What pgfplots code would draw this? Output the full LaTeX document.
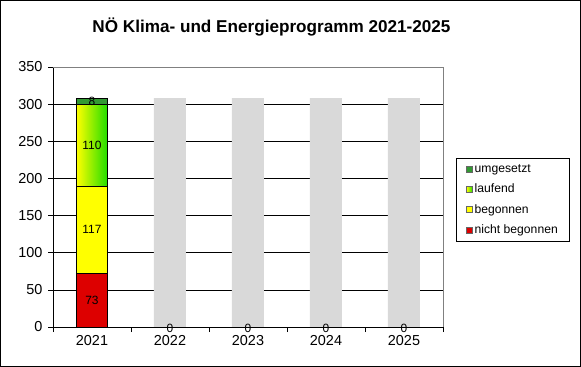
\documentclass[border=0pt]{standalone}
\usepackage{pgfplots}
\pgfplotsset{compat=1.18}
\usepackage{fontspec}
\setmainfont{Liberation Sans}
\definecolor{cred}{HTML}{DD0000}
\definecolor{cyellow}{HTML}{FFFF00}
\definecolor{cgreen}{HTML}{339933}
\definecolor{clgreen}{HTML}{CCFF66}
\definecolor{cgrad}{HTML}{22DD00}
\definecolor{cgray}{HTML}{D9D9D9}
\definecolor{cborder}{HTML}{808080}
\pgfplotsset{
  common/.style={
    at={(53bp,40bp)}, anchor=south west,
    scale only axis, width=390bp, height=260bp,
    xmin=-0.5, xmax=4.5, ymin=0, ymax=350,
    /pgf/number format/assume math mode=true,
  }
}
\begin{document}
\begin{tikzpicture}
\useasboundingbox (0bp,0bp) rectangle (581bp,367bp);
\draw[line width=1bp] (0.5bp,0.5bp) rectangle (580.5bp,366.5bp);
\node[font=\fontsize{17.2}{19}\selectfont\bfseries, anchor=base] at (271.5bp,334bp) {NÖ Klima- und Energieprogramm 2021-2025};
% background axis: grid, ticks and grey bars
\begin{axis}[
  common,
  ybar, bar width=32bp, clip=false,
  ytick={0,50,...,350},
  xtick={0,...,4}, xticklabels={2021,2022,2023,2024,2025},
  minor xtick={-0.5,0.5,...,4.5},
  major x tick style={draw=none},
  minor x tick style={black, line width=0.6bp},
  major y tick style={black, line width=0.6bp},
  tick align=outside, major tick length=5bp, minor tick length=5bp,
  xtick pos=bottom, ytick pos=left,
  axis x line*=bottom, axis y line*=left,
  axis line style={black, line width=0.8bp, -},
  ymajorgrids, grid style={black, line width=0.7bp},
  ticklabel style={font=\fontsize{14.5}{16}\selectfont},
  yticklabel style={xshift=-2bp},
]
\addplot[fill=cgray, draw=none, bar shift=0pt]
  coordinates {(1,308) (2,308) (3,308) (4,308)};
\draw[cborder, line width=0.8bp] (rel axis cs:0,1) -- (rel axis cs:1,1) -- (rel axis cs:1,0);
% value labels of the empty years (all series 0)
\addplot[draw=none, fill=none, bar shift=0pt, nodes near coords,
  every node near coord/.style={font=\fontsize{12}{14}\selectfont, black, anchor=center, yshift=-1bp}]
  coordinates {(1,0) (2,0) (3,0) (4,0)};
\end{axis}
% foreground axis: stacked status bars, labels and legend
\begin{axis}[
  common,
  hide axis,
  ybar stacked, bar width=31bp,
  every node near coord/.style={font=\fontsize{12}{14}\selectfont, black, anchor=center},
  nodes near coords={\pgfmathfloatifflags{\pgfplotspointmeta}{0}{}{\pgfmathprintnumber{\pgfplotspointmeta}}},
  reverse legend,
  legend style={at={(rel axis cs:1.0333,0.65)}, anchor=north west, draw=black, line width=0.6bp,
    font=\fontsize{12.2}{13.5}\selectfont, row sep=6.3bp, inner xsep=10bp, inner ysep=4bp,
    /tikz/every even column/.append style={column sep=2bp}},
  legend cell align=left,
]
\addplot[fill=cred, draw=black, line width=0.5bp,
  legend image code/.code={\draw[fill=cred, draw=black!60, line width=0.4bp] (0bp,-3bp) rectangle (6bp,3bp);}]
  coordinates {(0,73) (1,0) (2,0) (3,0) (4,0)};
\addlegendentry{nicht begonnen}
\addplot[fill=cyellow, draw=black, line width=0.5bp,
  legend image code/.code={\draw[fill=cyellow, draw=black!60, line width=0.4bp] (0bp,-3bp) rectangle (6bp,3bp);}]
  coordinates {(0,117) (1,0) (2,0) (3,0) (4,0)};
\addlegendentry{begonnen}
\addplot[left color=cyellow, middle color=cyellow!80!cgrad, right color=cgrad, draw=black, line width=0.5bp,
  legend image code/.code={\draw[fill=clgreen, draw=black!60, line width=0.4bp] (0bp,-3bp) rectangle (6bp,3bp);}]
  coordinates {(0,110) (1,0) (2,0) (3,0) (4,0)};
\addlegendentry{laufend}
\addplot[fill=cgreen, draw=black, line width=0.5bp,
  legend image code/.code={\draw[fill=cgreen, draw=black!60, line width=0.4bp] (0bp,-3bp) rectangle (6bp,3bp);}]
  coordinates {(0,8) (1,0) (2,0) (3,0) (4,0)};
\addlegendentry{umgesetzt}
\end{axis}
\end{tikzpicture}
\end{document}
